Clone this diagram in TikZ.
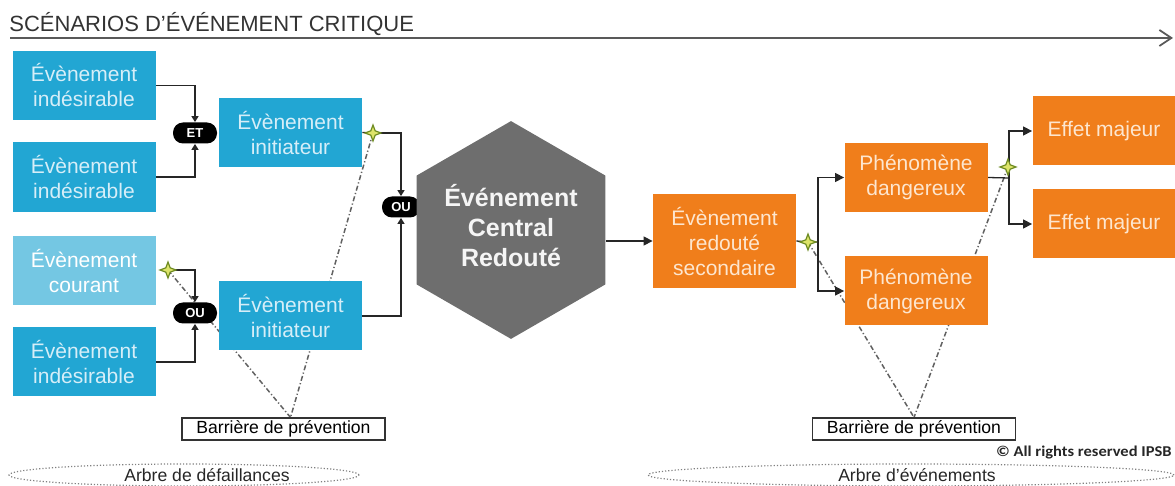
\documentclass[tikz,border=0pt]{standalone}
\usepackage{fontspec}
\usepackage{graphicx}
\setmainfont{Liberation Sans}
\newfontfamily\carl{Carlito}
\usetikzlibrary{shapes.geometric,arrows.meta,calc,backgrounds}
\definecolor{bleu}{HTML}{22A6D3}
\definecolor{bleuclair}{HTML}{74C7E3}
\definecolor{orng}{HTML}{F07E1B}
\definecolor{hexgray}{HTML}{6E6E6E}
\definecolor{txtbleu}{HTML}{D6EEF8}
\definecolor{txtorng}{HTML}{FDE6CF}
\definecolor{starfill}{HTML}{DDE46A}
\definecolor{starline}{HTML}{6E8B22}
\tikzset{
  box/.style={rectangle, minimum width=71.5pt, minimum height=34.5pt, inner sep=0pt, align=center, font=\fontsize{10.5}{12.5}\selectfont},
  bbox/.style={box, fill=bleu, text=txtbleu},
  obox/.style={box, fill=orng, text=txtorng},
  gate/.style={fill=black, rounded corners=5pt, minimum width=22pt, minimum height=10.5pt, inner sep=0pt, text=white, font=\bfseries\fontsize{6.5}{7}\selectfont},
  marker/.style={star, star points=4, star point ratio=2.6, minimum size=8pt, inner sep=0pt, fill=starfill, draw=starline, line width=0.6pt},
  conn/.style={draw=black!85, line width=0.65pt},
  arr/.style={conn, -{Triangle[length=4.5pt,width=4.5pt]}},
  garr/.style={conn, -{Triangle[length=3pt,width=3.5pt]}},
  barline/.style={draw=black!62, line width=0.75pt, dash pattern=on 2.5pt off 1.2pt on 0.6pt off 1.2pt},
  barrier/.style={draw=black!80, line width=0.6pt, minimum width=101.5pt, minimum height=11pt, inner sep=0pt, font=\fontsize{8.8}{10}\selectfont, fill=white},
  tree/.style={ellipse, draw=black!50, densely dotted, line width=0.6pt, inner sep=0pt, minimum height=11pt},
  treetext/.style={inner sep=0pt, font=\fontsize{8.8}{10}\selectfont, text=black!85}
}
\begin{document}
\begin{tikzpicture}[x=0.5pt,y=-0.5pt]
\useasboundingbox (0,0) rectangle (1175,486);
% title
\node[anchor=base west, inner sep=0pt, font=\fontsize{11}{13}\selectfont, text=black!80] (title) at (9,32) {SCÉNARIOS D’ÉVÉNEMENT CRITIQUE};
\coordinate (tl0) at (10,38);
\coordinate (tl1) at (1173,38);
\draw[black!65, line width=0.9pt, -{Straight Barb[length=6pt,width=8pt]}] (tl0) -- (tl1);

% fault tree side
\node[bbox] (ei1) at (84,85.5) {Évènement\\indésirable};
\node[bbox, minimum height=35pt] (ei2) at (84,177) {Évènement\\indésirable};
\node[bbox, fill=bleuclair, text=white] (ec) at (84,271) {Évènement\\courant};
\node[bbox] (ei4) at (84,362) {Évènement\\indésirable};
\node[gate] (et) at (195,133) {ET};
\node[gate] (ou1) at (195,313) {OU};
\node[bbox] (init1) at (290.5,132.5) {Évènement\\initiateur};
\node[bbox] (init2) at (290.5,316) {Évènement\\initiateur};
\node[gate, minimum width=19pt] (ou2) at (401,207) {OU};
\node[marker] (star0) at (168,270) {};
\node[marker] (star1) at (373,133) {};

% central event
\node[regular polygon, regular polygon sides=6, shape border rotate=30, minimum size=105pt, inner sep=0pt, fill=hexgray, text=black!4, font=\bfseries\fontsize{12.5}{15}\selectfont] (hex) at (511,230) {\raisebox{-3pt}{\begin{tabular}{@{}c@{}}Événement\\Central\\Redouté\end{tabular}}};

% event tree side
\node[obox, minimum height=47pt] (ers) at (724.5,241) {Évènement\\redouté\\secondaire};
\node[marker] (star2) at (808,242) {};
\coordinate (j2) at (818,242);
\node[obox] (ph1) at (916,177.5) {Phénomène\\dangereux};
\node[obox] (ph2) at (916,291) {Phénomène\\dangereux};
\coordinate (j3) at (1009,178);
\node[marker] (star3) at (1008,167) {};
\node[obox] (em1) at (1104,131) {Effet majeur};
\node[obox] (em2) at (1104,224) {Effet majeur};

% barriers and trees
\node[barrier] (bar1) at (283.5,429) {Barrière de prévention};
\node[barrier] (bar2) at (914,429) {Barrière de prévention};
\node[anchor=base east, inner sep=0pt, font=\carl\bfseries\fontsize{7.5}{9}\selectfont, text=black!85] (copy) at (1172,457) {\scalebox{1.1}[1]{© All rights reserved IPSB}};
\node[tree, minimum width=175pt] (ell1) at (184,475) {};
\node[treetext] (t1) at (207,475) {Arbre de défaillances};
\node[tree, minimum width=263pt] (ell2) at (911,475) {};
\node[treetext] (t2) at (917,475) {Arbre d’événements};

\begin{pgfonlayer}{background}
\coordinate (b1) at ($(bar1.north)+(7,0)$);
\coordinate (b2) at (bar2.north);
\draw[barline] (star0.center) -- (b1);
\draw[barline] (star1.center) -- (b1);
\draw[barline] (star2.center) -- (b2);
\draw[barline] (star3.center) -- (b2);
\draw[garr] (ei1.east) -| (et.north);
\draw[garr] (ei2.east) -| (et.south);
\draw[garr] (star0.center) -| (ou1.north);
\draw[garr] (ei4.east) -| (ou1.south);
\draw[conn] (init1.east) -- (star1.center);
\draw[garr] (star1.center) -| (ou2.north);
\draw[garr] (init2.east) -| (ou2.south);
\draw[arr] (hex.east |- ers.west) -- (ers.west);
\draw[conn] (ers.east) -- (star2.center) -- (j2);
\draw[arr] (j2) |- (ph1.west);
\draw[arr] (j2) |- (ph2.west);
\draw[conn] (ph1.east) -- (j3);
\draw[arr] (j3) |- (em1.west);
\draw[arr] (j3) |- (em2.west);
\end{pgfonlayer}
\end{tikzpicture}
\end{document}
